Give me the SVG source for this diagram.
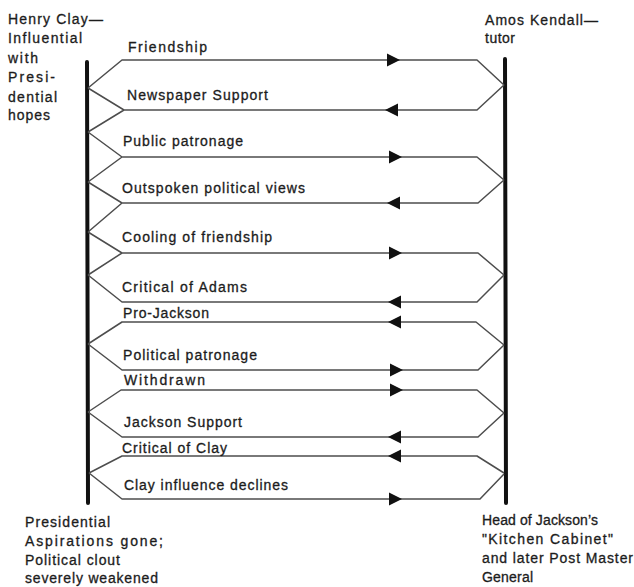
<svg xmlns="http://www.w3.org/2000/svg" xmlns:xlink="http://www.w3.org/1999/xlink" width="634" height="587" viewBox="0 0 634 587">
<style>
  text { font-family: "Liberation Sans", Arial, sans-serif; font-size: 14px; fill: #1c1c1c; stroke: #1c1c1c; stroke-width: 0.3; }
  .bar { stroke: #111; stroke-width: 4; stroke-linecap: round; fill: none; }
  .ln { stroke: #4d4d4d; stroke-width: 1.5; fill: none; stroke-linejoin: round; }
  .ah { fill: #111; }
</style>
<defs>
  <path id="arR" d="M0,0 L-13,-6.5 L-13,6.5 Z"/>
  <path id="arL" d="M0,0 L13,-6.5 L13,6.5 Z"/>
</defs>
<rect width="634" height="587" fill="#ffffff"/>

<g id="clay">
  <line class="bar" x1="87" y1="62" x2="88" y2="503"/>
  <text x="8" y="24" textLength="95" lengthAdjust="spacing">Henry Clay—</text>
  <text x="8" y="43" textLength="74" lengthAdjust="spacing">Influential</text>
  <text x="8" y="62.5" textLength="30" lengthAdjust="spacing">with</text>
  <text x="8" y="82" textLength="47" lengthAdjust="spacing">Presi-</text>
  <text x="8" y="101.5" textLength="49" lengthAdjust="spacing">dential</text>
  <text x="8" y="120" textLength="42" lengthAdjust="spacing">hopes</text>
  <text x="25" y="527" textLength="85" lengthAdjust="spacing">Presidential</text>
  <text x="25" y="546" textLength="138" lengthAdjust="spacing">Aspirations gone;</text>
  <text x="25" y="565" textLength="95" lengthAdjust="spacing">Political clout</text>
  <text x="25" y="583" textLength="133" lengthAdjust="spacing">severely weakened</text>
</g>

<g id="kendall">
  <line class="bar" x1="505" y1="59" x2="506" y2="503"/>
  <text x="485" y="25" textLength="113" lengthAdjust="spacing">Amos Kendall—</text>
  <text x="485" y="43" textLength="30" lengthAdjust="spacing">tutor</text>
  <text x="482" y="525" textLength="116" lengthAdjust="spacing">Head of Jackson’s</text>
  <text x="482" y="544" textLength="131" lengthAdjust="spacing">"Kitchen Cabinet"</text>
  <text x="482" y="563" textLength="151" lengthAdjust="spacing">and later Post Master</text>
  <text x="482" y="582" textLength="51" lengthAdjust="spacing">General</text>
</g>

<g id="connectors">
  <g id="m1">
    <path class="ln" d="M88,88 L122,60 H477 L504,85"/>
    <use xlink:href="#arR" href="#arR" x="400" y="60" class="ah"/>
    <text x="128" y="52" textLength="79" lengthAdjust="spacing">Friendship</text>
  </g>
  <g id="m2">
    <path class="ln" d="M88,88 L124,110 L88,132 M124,110 H477 L504,85"/>
    <use xlink:href="#arL" href="#arL" x="385" y="110" class="ah"/>
    <text x="127" y="100" textLength="141" lengthAdjust="spacing">Newspaper Support</text>
  </g>
  <g id="m3">
    <path class="ln" d="M88,132 L122,157 L88,182 M122,157 H477 L504,180"/>
    <use xlink:href="#arR" href="#arR" x="402" y="157" class="ah"/>
    <text x="123" y="146" textLength="120" lengthAdjust="spacing">Public patronage</text>
  </g>
  <g id="m4">
    <path class="ln" d="M88,182 L122,203 L88,232 M122,203 H478 L504,180"/>
    <use xlink:href="#arL" href="#arL" x="387" y="203" class="ah"/>
    <text x="122" y="193" textLength="183" lengthAdjust="spacing">Outspoken political views</text>
  </g>
  <g id="m5">
    <path class="ln" d="M88,232 L122,253 L88,275 M122,253 H478 L504,275"/>
    <use xlink:href="#arR" href="#arR" x="402" y="253" class="ah"/>
    <text x="122" y="242" textLength="150" lengthAdjust="spacing">Cooling of friendship</text>
  </g>
  <g id="m6">
    <path class="ln" d="M88,275 L122,302 H477 L504,275"/>
    <use xlink:href="#arL" href="#arL" x="388" y="302" class="ah"/>
    <text x="122" y="292" textLength="125" lengthAdjust="spacing">Critical of Adams</text>
  </g>
  <g id="m7">
    <path class="ln" d="M88,344 L122,322 H476 L504,345"/>
    <use xlink:href="#arL" href="#arL" x="388" y="322" class="ah"/>
    <text x="123" y="318" textLength="86" lengthAdjust="spacing">Pro-Jackson</text>
  </g>
  <g id="m8">
    <path class="ln" d="M88,344 L122,370 H478 L504,345"/>
    <use xlink:href="#arR" href="#arR" x="403" y="370" class="ah"/>
    <text x="123" y="360" textLength="134" lengthAdjust="spacing">Political patronage</text>
  </g>
  <g id="m9">
    <path class="ln" d="M88,412 L121,390 H477 L504,413"/>
    <use xlink:href="#arR" href="#arR" x="403" y="390" class="ah"/>
    <text x="124" y="385" textLength="81" lengthAdjust="spacing">Withdrawn</text>
  </g>
  <g id="m10">
    <path class="ln" d="M88,412 L122,437 H478 L504,413"/>
    <use xlink:href="#arL" href="#arL" x="388" y="437" class="ah"/>
    <text x="124" y="427" textLength="118" lengthAdjust="spacing">Jackson Support</text>
  </g>
  <g id="m11">
    <path class="ln" d="M89,473 L122,456 H477 L504,473"/>
    <use xlink:href="#arL" href="#arL" x="388" y="456" class="ah"/>
    <text x="122" y="453" textLength="105" lengthAdjust="spacing">Critical of Clay</text>
  </g>
  <g id="m12">
    <path class="ln" d="M89,473 L122,499 H480 L504,474"/>
    <use xlink:href="#arR" href="#arR" x="402" y="499" class="ah"/>
    <text x="124" y="490" textLength="164" lengthAdjust="spacing">Clay influence declines</text>
  </g>
</g>
</svg>
